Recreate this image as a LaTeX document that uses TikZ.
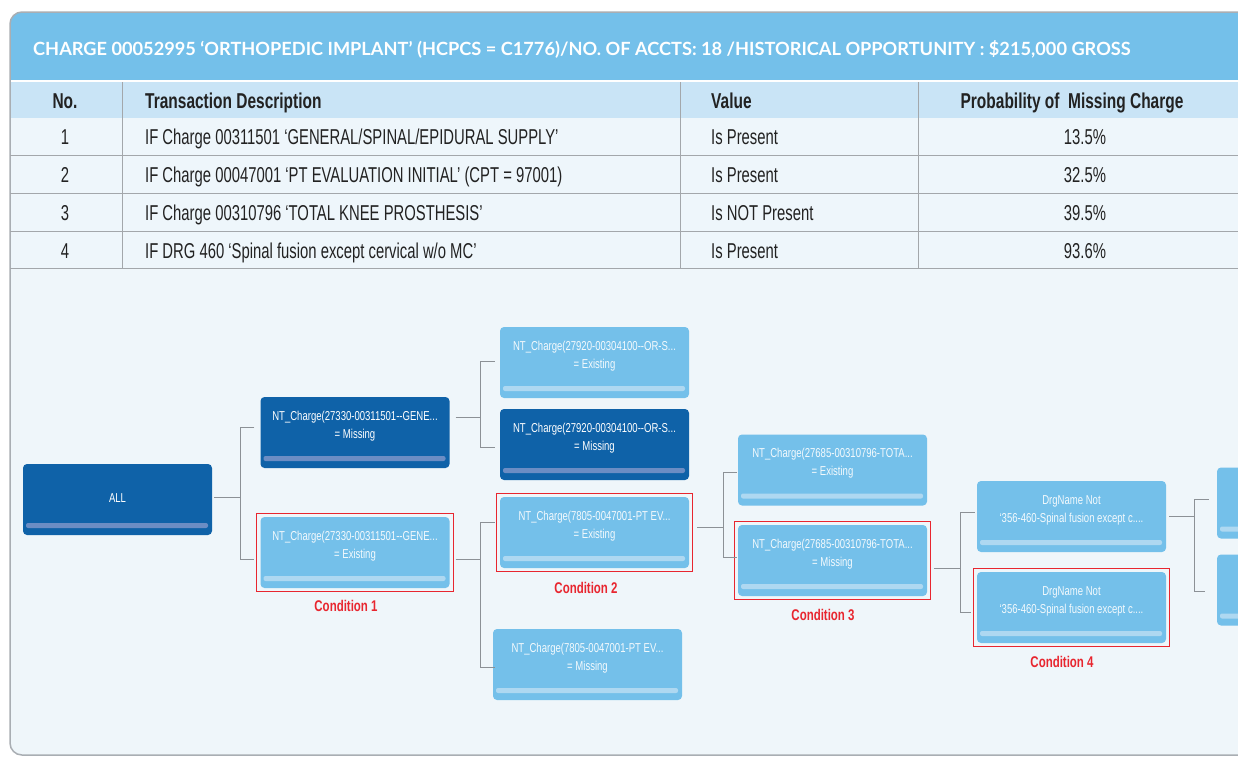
\documentclass[tikz,border=0pt]{standalone}
\usepackage{fontspec}
\setmainfont{Liberation Sans}
\newfontfamily\cond[FakeStretch=0.74]{Liberation Sans}
\newfontfamily\tcond[FakeStretch=0.69]{Liberation Sans}
\newfontfamily\hcond[FakeStretch=0.72]{Liberation Sans}
\newfontfamily\titlef{Lato}
\usetikzlibrary{fit}
\definecolor{bandblue}{HTML}{74C0EA}
\definecolor{headblue}{HTML}{C9E4F6}
\definecolor{rowbg}{HTML}{EEF6FB}
\definecolor{treebg}{HTML}{EFF6FA}
\definecolor{darkblue}{HTML}{0F62A8}
\definecolor{darkbar}{HTML}{6B8DC4}
\definecolor{lightblue}{HTML}{74C0EA}
\definecolor{lightbar}{HTML}{AED8F1}
\definecolor{lighttext}{HTML}{F4FAFD}
\definecolor{condred}{HTML}{E8262F}
\definecolor{linegray}{HTML}{8C9196}
\definecolor{bordergray}{HTML}{A9AEB3}
\definecolor{txtdark}{HTML}{222222}
\tikzset{
  base/.style={rounded corners=4pt, minimum width=189pt, minimum height=71pt, inner sep=0pt},
  dnode/.style={base, fill=darkblue, path picture={\fill[darkbar,rounded corners=2pt] ([xshift=3pt,yshift=7pt]path picture bounding box.south west) rectangle ([xshift=-4pt,yshift=12pt]path picture bounding box.south east);}},
  lnode/.style={base, fill=lightblue, path picture={\fill[lightbar,rounded corners=2pt] ([xshift=3pt,yshift=7pt]path picture bounding box.south west) rectangle ([xshift=-4pt,yshift=12pt]path picture bounding box.south east);}},
  dtext/.style={text=white, align=center, inner sep=0pt, font=\cond\fontsize{12.9}{18}\selectfont},
  ltext/.style={dtext, text=lighttext},
  redbox/.style={draw=condred, line width=1.3pt, inner sep=3.5pt, rectangle},
  condlbl/.style={text=condred, inner sep=0pt, font=\cond\bfseries\fontsize{15.5}{17}\selectfont},
  conn/.style={draw=linegray, line width=1pt},
  tbl/.style={inner sep=0pt, text=txtdark, anchor=base, font=\tcond\fontsize{21.5}{24}\selectfont},
  tblw/.style={tbl, anchor=base west},
  tblh/.style={inner sep=0pt, text=txtdark, anchor=base, font=\hcond\bfseries\fontsize{21.5}{24}\selectfont},
  tblhw/.style={tblh, anchor=base west},
  tline/.style={draw=linegray!80, line width=1pt}
}
\begin{document}
\begin{tikzpicture}[x=1pt,y=-1pt]
\useasboundingbox (0,0) rectangle (1238,756);
\clip (0,0) rectangle (1238,756);
\fill[white] (0,0) rectangle (1238,756);
% panel
\begin{scope}
  \clip[rounded corners=12pt] (10,12) rectangle (1270,755);
  \fill[treebg] (10,12) rectangle (1270,755);
  \fill[bandblue] (10,12) rectangle (1270,80);
  \fill[white] (10,80) rectangle (1270,82);
  \fill[headblue] (10,82) rectangle (1270,118);
  \fill[rowbg] (10,118) rectangle (1270,268);
\end{scope}
\draw[bordergray, line width=1.5pt, rounded corners=12pt] (10,12) rectangle (1270,755);
% table lines
\foreach \yy in {155,193,231,268} \draw[tline] (10,\yy) -- (1270,\yy);
\foreach \xx in {122,680,918} \draw[tline] (\xx,82) -- (\xx,268);
% title
\node[anchor=base west, inner sep=0pt, text=white, font=\titlef\bfseries\fontsize{18.2}{20}\selectfont] (title) at (33,55) {CHARGE 00052995 ‘ORTHOPEDIC IMPLANT’ (HCPCS = C1776)/NO. OF ACCTS: 18 /HISTORICAL OPPORTUNITY : \$215,000 GROSS};
% header
\node[tblh] (hno) at (65,108) {No.};
\node[tblhw] (hdesc) at (145,108) {Transaction Description};
\node[tblhw] (hval) at (711,108) {Value};
\node[tblh] (hprob) at (1072,108) {Probability of~ Missing Charge};
% rows
\node[tbl] (r1n) at (65,144) {1};
\node[tblw] (r1d) at (145,144) {IF Charge 00311501 ‘GENERAL/SPINAL/EPIDURAL SUPPLY’};
\node[tblw] (r1v) at (711,144) {Is Present};
\node[tbl] (r1p) at (1085,144) {13.5\%};
\node[tbl] (r2n) at (65,182) {2};
\node[tblw] (r2d) at (145,182) {IF Charge 00047001 ‘PT EVALUATION INITIAL’ (CPT = 97001)};
\node[tblw] (r2v) at (711,182) {Is Present};
\node[tbl] (r2p) at (1085,182) {32.5\%};
\node[tbl] (r3n) at (65,220) {3};
\node[tblw] (r3d) at (145,220) {IF Charge 00310796 ‘TOTAL KNEE PROSTHESIS’};
\node[tblw] (r3v) at (711,220) {Is NOT Present};
\node[tbl] (r3p) at (1085,220) {39.5\%};
\node[tbl] (r4n) at (65,258) {4};
\node[tblw] (r4d) at (145,258) {IF DRG 460 ‘Spinal fusion except cervical w/o MC’};
\node[tblw] (r4v) at (711,258) {Is Present};
\node[tbl] (r4p) at (1085,258) {93.6\%};
% tree nodes
\node[dnode] (all) at (117.5,499.5) {};
\node[dtext] (allt) at (117.5,498) {ALL};
\node[dnode] (n1m) at (355,432.5) {};
\node[dtext] (n1mt) at ([yshift=6.5pt]n1m.center) {NT\_Charge(27330-00311501--GENE...\\= Missing};
\node[lnode] (n1e) at (355,552.5) {};
\node[ltext] (n1et) at ([yshift=6.5pt]n1e.center) {NT\_Charge(27330-00311501--GENE...\\= Existing};
\node[lnode] (n2a) at (594.5,362.5) {};
\node[ltext] (n2at) at ([yshift=6.5pt]n2a.center) {NT\_Charge(27920-00304100--OR-S...\\= Existing};
\node[dnode] (n2b) at (594.5,444.5) {};
\node[dtext] (n2bt) at ([yshift=6.5pt]n2b.center) {NT\_Charge(27920-00304100--OR-S...\\= Missing};
\node[lnode] (n2c) at (594.5,532.5) {};
\node[ltext] (n2ct) at ([yshift=6.5pt]n2c.center) {NT\_Charge(7805-0047001-PT EV...\\= Existing};
\node[lnode] (n2d) at (587.5,664.5) {};
\node[ltext] (n2dt) at ([yshift=6.5pt]n2d.center) {NT\_Charge(7805-0047001-PT EV...\\= Missing};
\node[lnode] (n3a) at (832.5,470) {};
\node[ltext] (n3at) at ([yshift=6.5pt]n3a.center) {NT\_Charge(27685-00310796-TOTA...\\= Existing};
\node[lnode] (n3b) at (832.5,560.5) {};
\node[ltext] (n3bt) at ([yshift=6.5pt]n3b.center) {NT\_Charge(27685-00310796-TOTA...\\= Missing};
\node[lnode] (n4a) at (1071.5,516.5) {};
\node[ltext] (n4at) at ([yshift=6.5pt]n4a.center) {DrgName Not\\‘356-460-Spinal fusion except c....};
\node[lnode] (n4b) at (1071.5,607.5) {};
\node[ltext] (n4bt) at ([yshift=6.5pt]n4b.center) {DrgName Not\\‘356-460-Spinal fusion except c....};
\node[lnode] (n5a) at (1311.5,503) {};
\node[lnode] (n5b) at (1311.5,590) {};
% red boxes
\node[redbox, fit=(n1e)] (rb1) {};
\node[redbox, fit=(n2c)] (rb2) {};
\node[redbox, fit=(n3b)] (rb3) {};
\node[redbox, fit=(n4b)] (rb4) {};
\node[condlbl] (c1) at (346,606) {Condition 1};
\node[condlbl] (c2) at (586,588) {Condition 2};
\node[condlbl] (c3) at (823,615) {Condition 3};
\node[condlbl] (c4) at (1062,662) {Condition 4};
% connectors
\draw[conn] ([xshift=2pt,yshift=2.5pt]all.east) -- ++(26,0) coordinate (j1);
\draw[conn] ([xshift=-6pt,yshift=5.5pt]n1m.west) -| (j1) |- ([xshift=-6pt,yshift=-6.5pt]n1e.west);
\draw[conn] ([xshift=6pt,yshift=15.5pt]n1m.east) -- ++(25,0) coordinate (j2);
\draw[conn] ([xshift=-5pt,yshift=1.5pt]n2a.west) -| (j2) |- ([xshift=-5pt,yshift=-2.5pt]n2b.west);
\draw[conn] ([xshift=6pt,yshift=-6.5pt]n1e.east) -- ++(25,0) coordinate (j3);
\draw[conn] ([xshift=-5pt,yshift=10.5pt]n2c.west) -| (j3) |- ([xshift=2pt,yshift=-2.5pt]n2d.west);
\draw[conn] ([xshift=8pt,yshift=5.5pt]n2c.east) -- ++(26,0) coordinate (j4);
\draw[conn] ([xshift=-1pt,yshift=-2pt]n3a.west) -| (j4) |- ([xshift=-1pt,yshift=3.5pt]n3b.west);
\draw[conn] ([xshift=7pt,yshift=-7.5pt]n3b.east) -- ++(26,0) coordinate (j5);
\draw[conn] ([xshift=-2pt,yshift=4.5pt]n4a.west) -| (j5) |- ([xshift=-6pt,yshift=-4.5pt]n4b.west);
\draw[conn] ([xshift=3pt]n4a.east) -- ++(25,0) coordinate (j6);
\draw[conn] ([xshift=-8pt,yshift=4pt]n5a.west) -| (j6) |- ([xshift=-12pt,yshift=-1pt]n5b.west);
\end{tikzpicture}
\end{document}
